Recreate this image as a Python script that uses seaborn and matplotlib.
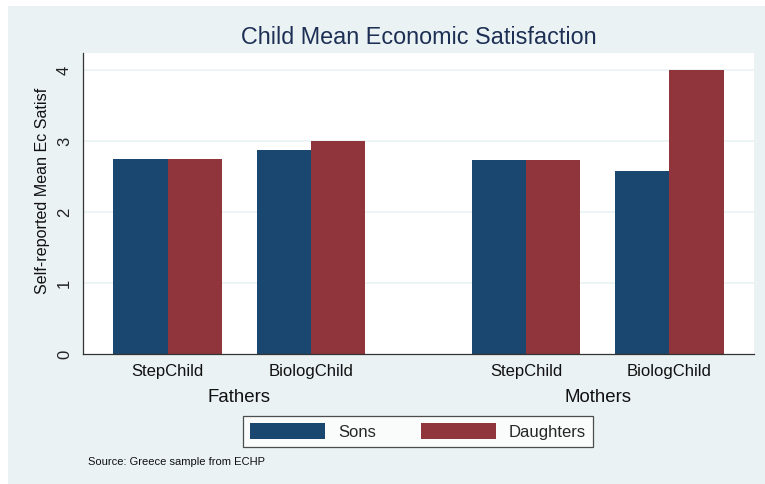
import matplotlib
matplotlib.use("Agg")
import matplotlib.pyplot as plt
import matplotlib.patches as mpatches
import matplotlib.transforms as mtrans
import seaborn as sns
import pandas as pd

# ---- data ----
parents = ["Fathers", "Mothers"]
children = ["StepChild", "BiologChild"]
series = ["Sons", "Daughters"]
sons_values = [2.75, 2.88, 2.73, 2.58]        # Fathers-Step, Fathers-Biolog, Mothers-Step, Mothers-Biolog
daughters_values = [2.75, 3.00, 2.73, 4.00]
title = "Child Mean Economic Satisfaction"
ylabel = "Self-reported Mean Ec Satisf"
note = "Source: Greece sample from ECHP"
yticks = [0, 1, 2, 3, 4]

# ---- table ----
GROUP_STEP = 2.5  # layout spacing between parent groups
rows = []
for pi, p in enumerate(parents):
    for ci, c in enumerate(children):
        k = pi * len(children) + ci
        for s, vals in zip(series, [sons_values, daughters_values]):
            rows.append({"parent": p, "child": c, "sex": s,
                         "pos": pi * GROUP_STEP + ci, "value": vals[k]})
df = pd.DataFrame(rows)

W, H = 765, 484
BG = "#eaf2f3"
NAVY = "#1a476f"
MAROON = "#90353b"

sns.set_theme(style="white")
plt.rcParams["font.family"] = ["Liberation Sans", "DejaVu Sans"]

fig = plt.figure(figsize=(W / 100, H / 100), dpi=100, facecolor="white")
fig.patches.append(mpatches.Rectangle((8 / W, 0), 1 - 8 / W, 1 - 6 / H,
                                      transform=fig.transFigure,
                                      facecolor=BG, edgecolor="none", zorder=-10))

ax = fig.add_axes([83 / W, (H - 354) / H, (754 - 83) / W, (354 - 53) / H])
ax.set_zorder(2)
ax.set_facecolor("white")

sns.barplot(data=df, x="pos", y="value", hue="sex", hue_order=series,
            palette=[NAVY, MAROON], native_scale=True, width=0.755,
            errorbar=None, saturation=1, linewidth=0, ax=ax, legend=True,
            zorder=3)

ax.set_xlim(-0.59, 1 * GROUP_STEP + 1 + 0.59)
ax.set_ylim(0, (354 - 53) / 71)

# grid
for t in yticks[1:]:
    ax.axhline(t, color=BG, lw=1.2, zorder=1)

ax.set_yticks(yticks)
ax.set_yticklabels([str(t) for t in yticks], rotation=90, va="center",
                   fontsize=12, color="#222222")
ax.tick_params(axis="y", direction="out", length=5, width=0.8, color="#333333", pad=3)

pos_unique = sorted(df["pos"].unique())
ax.set_xticks(pos_unique)
ax.set_xticklabels(children * len(parents), fontsize=12, color="#111111")
ax.tick_params(axis="x", length=0, pad=7)

ax.set_xlabel("")
ax.set_ylabel(ylabel, fontsize=11.6, color="#111111")
ax.yaxis.set_label_coords(-0.049, 0.541)

for sp in ["top", "right"]:
    ax.spines[sp].set_visible(False)
for sp in ["left", "bottom"]:
    ax.spines[sp].set_color("#333333")
    ax.spines[sp].set_linewidth(0.9)
    ax.spines[sp].set_zorder(4)

# group labels
trans = mtrans.blended_transform_factory(ax.transData, fig.transFigure)
for pi, p in enumerate(parents):
    ax.text(pi * GROUP_STEP + 0.5, (H - 398) / H, p, transform=trans,
            ha="center", va="center", fontsize=13.4, color="#111111")

# title
fig.text(418.5 / W, (H - 37) / H, title, ha="center", va="center",
         fontsize=16.8, color="#1e2f55")

# legend
handles, labels = ax.get_legend_handles_labels()
ax.get_legend().remove()
leg = fig.legend(handles, labels, loc="center",
                 bbox_to_anchor=(418 / W, (H - 431.5) / H), ncol=2,
                 frameon=True, fancybox=False, fontsize=12,
                 handlelength=4.5, handleheight=1.05, handletextpad=0.75,
                 columnspacing=2.7, borderpad=0.45, borderaxespad=0)
leg.get_frame().set_edgecolor("#222222")
leg.get_frame().set_linewidth(0.9)
leg.get_frame().set_facecolor("white")

# note
fig.text(88 / W, (H - 462) / H, note, ha="left", va="center",
         fontsize=8, color="#111111")

fig.savefig("out.png", dpi=100, facecolor="white")
